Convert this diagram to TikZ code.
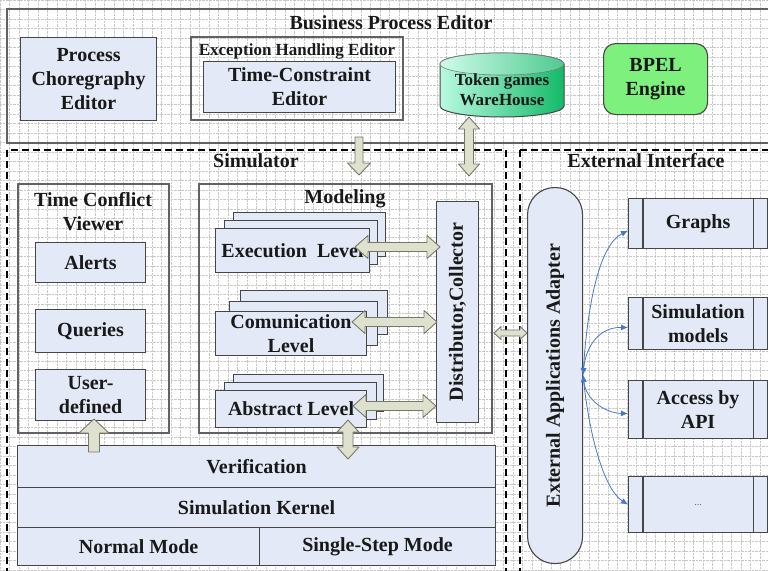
\documentclass[tikz,border=0pt]{standalone}
\usepackage{fontspec}
\setmainfont{Liberation Serif}
\usetikzlibrary{arrows.meta,calc}
\definecolor{boxfill}{RGB}{227,233,246}
\definecolor{boxline}{RGB}{70,70,70}
\definecolor{arrfill}{RGB}{222,225,206}
\definecolor{arrline}{RGB}{120,120,105}
\definecolor{gridc}{RGB}{200,200,200}
\definecolor{linkc}{RGB}{70,120,200}
\definecolor{bpelc}{RGB}{125,240,125}
\definecolor{cylL}{RGB}{185,250,225}
\definecolor{cylR}{RGB}{20,185,105}
\tikzset{
 txt/.style={font=\bfseries\fontsize{20}{24}\selectfont, align=center, text=black!90},
 box/.style={txt, draw=boxline, fill=boxfill, line width=1.1pt, inner sep=0pt, anchor=north west},
 frame/.style={draw=boxline!85, line width=1.1pt},
 dashframe/.style={draw=black, line width=1.6pt, dash pattern=on 7pt off 4pt},
 blk/.style={draw=arrline, fill=arrfill, line width=0.9pt, line join=round},
 link/.style={draw=linkc, line width=0.8pt, {Latex[length=7pt,width=6pt]}-{Latex[length=7pt,width=6pt]}},
}
% box: [opts]{name}{x1}{y1}{x2}{y2}{text}
\newcommand\bx[7][]{\node[box,minimum width={(#5-#3)*1pt},minimum height={(#6-#4)*1pt},#1] (#2) at (#3,#4) {#7};}
% horizontal double block arrow: {x1}{x2}{y}{shaft half}{head half}{head length}
\newcommand\HArr[6]{\draw[blk] (#1,#3) -- (#1+#6,#3-#5) -- (#1+#6,#3-#4) -- (#2-#6,#3-#4) -- (#2-#6,#3-#5) -- (#2,#3) -- (#2-#6,#3+#5) -- (#2-#6,#3+#4) -- (#1+#6,#3+#4) -- (#1+#6,#3+#5) -- cycle;}
% vertical double block arrow: {y1}{y2}{x}{shaft half}{head half}{head length}
\newcommand\VArr[6]{\draw[blk] (#3,#1) -- (#3-#5,#1+#6) -- (#3-#4,#1+#6) -- (#3-#4,#2-#6) -- (#3-#5,#2-#6) -- (#3,#2) -- (#3+#5,#2-#6) -- (#3+#4,#2-#6) -- (#3+#4,#1+#6) -- (#3+#5,#1+#6) -- cycle;}
% single vertical block arrow: {x}{ybase}{ytip}{shaft half}{head half}{signed head length}
\newcommand\SArr[6]{\draw[blk] (#1-#4,#2) -- (#1+#4,#2) -- (#1+#4,#3-#6) -- (#1+#5,#3-#6) -- (#1,#3) -- (#1-#5,#3-#6) -- (#1-#4,#3-#6) -- cycle;}
\begin{document}
\begin{tikzpicture}[x=1pt,y=-1pt]
\useasboundingbox (0,0) rectangle (768,570);
\fill[white] (0,0) rectangle (768,570);
\draw[gridc, densely dotted, line width=0.4pt, step=9.5pt] (0,0) grid (768,570);

% ---------- Business Process Editor ----------
\draw[frame] (7,9) rectangle (772,143);
\node[txt] (bpetitle) at (391,23) {Business Process Editor};
\bx{pce}{20}{37}{156}{120}{Process\\Choregraphy\\Editor}
\draw[frame] (191,37) rectangle (403,120);
\node[txt, font=\bfseries\fontsize{17}{20}\selectfont] (ehe) at (297,51) {Exception Handling Editor};
\bx{tce}{203}{61}{395}{112}{Time-Constraint\\Editor}
% cylinder
\path[draw=boxline, line width=1pt, left color=cylL, right color=cylR]
  (440,64) -- (440,106) arc[start angle=180, end angle=0, x radius=62, y radius=11]
  -- (564,64) arc[start angle=0, end angle=-180, x radius=62, y radius=11] -- cycle;
\path[draw=boxline!70, line width=0.6pt, left color=cylL!70!white, right color=cylR!75!white]
  (440,64) arc[start angle=180, end angle=0, x radius=62, y radius=11]
  arc[start angle=0, end angle=-180, x radius=62, y radius=11] -- cycle;
\node[txt, font=\bfseries\fontsize{17}{20}\selectfont] (token) at (502,90) {Token games\\WareHouse};
\bx[rounded corners=12pt, fill=bpelc]{bpel}{603}{43}{707}{114}{BPEL\\Engine}

% ---------- Simulator ----------
\draw[dashframe] (7,150) rectangle (506,575);
\node[txt] (simtitle) at (256,161) {Simulator};
\draw[dashframe] (520,150) rectangle (775,575);
\node[txt] (exttitle) at (646,161) {External Interface};

\draw[frame] (18,184) rectangle (169,433);
\node[txt] (tcv) at (93,212) {Time Conflict\\Viewer};
\bx{alerts}{35}{242}{145}{282}{Alerts}
\bx{queries}{35}{309}{145}{352}{Queries}
\bx{userdef}{35}{369}{145}{420}{User-\\defined}

\draw[frame] (199,184) rectangle (492,433);
\node[txt] (modeling) at (345,199) {Modeling};
% stacked levels
\bx{execb}{233}{212}{385}{256}{}
\bx{execm}{224}{220}{377}{264}{}
\bx{exec}{215}{228}{369}{272}{Execution\ \ Level}
\bx{commb}{240}{290}{387}{334}{}
\bx{commm}{229}{301}{377}{345}{}
\bx{comm}{215}{311}{366}{355}{Comunication\\Level}
\bx{absb}{233}{374}{383}{411}{}
\bx{absm}{224}{382}{376}{419}{}
\bx{abs}{215}{390}{366}{427}{Abstract Level}
\bx{dist}{436}{201}{478}{422}{}
\node[txt, rotate=90] (distlabel) at (dist.center) {Distributor,Collector};

\bx{verif}{17}{445}{495}{487}{Verification}
\bx{kernel}{17}{487}{495}{527}{Simulation Kernel}
\bx{normal}{17}{527}{259}{565}{Normal Mode}
\bx{single}{259}{527}{495}{565}{Single-Step Mode}

% ---------- External Interface ----------
\bx[rounded corners=27pt]{adapter}{527}{187}{582}{563}{}
\node[txt, rotate=90] (adlabel) at (adapter.center) {External Applications Adapter};
\bx{graphs}{628}{198}{767}{248}{Graphs}
\bx{simmod}{628}{297}{767}{349}{Simulation\\models}
\bx{api}{628}{380}{767}{438}{Access by\\API}
\bx{dots}{628}{476}{767}{532}{\normalfont\fontsize{10}{12}\selectfont\color{black!60}...}
\foreach \n in {graphs,simmod,api,dots}{
  \draw[boxline, line width=1.1pt] ([xshift=15pt]\n.north west) -- ([xshift=15pt]\n.south west);
  \draw[boxline, line width=1.1pt] ([xshift=-15pt]\n.north east) -- ([xshift=-15pt]\n.south east);
}
\coordinate (ad) at (583,375);
\draw[link] (ad) .. controls (588,300) and (600,245) .. ([yshift=-7pt]graphs.west);
\draw[link] (ad) .. controls (586,345) and (600,327) .. ([yshift=-4pt]simmod.west);
\draw[link] (ad) .. controls (586,400) and (605,413) .. ([yshift=-4pt]api.west);
\draw[link] (ad) .. controls (590,440) and (605,490) .. (dots.west);

% ---------- block arrows ----------
\SArr{359}{137}{175}{4}{11.5}{12}
\VArr{117}{176}{469}{4.5}{10.5}{12}
\HArr{355}{440}{247}{4.5}{11.5}{13}
\HArr{352}{437}{322}{4.5}{11.5}{13}
\HArr{353}{436}{406}{4.5}{11.5}{13}
\VArr{420}{459}{348}{5}{11}{12}
\SArr{94}{452}{419}{5.5}{15}{-14}
\HArr{494}{527}{333}{3}{6.5}{7}
\end{tikzpicture}
\end{document}
